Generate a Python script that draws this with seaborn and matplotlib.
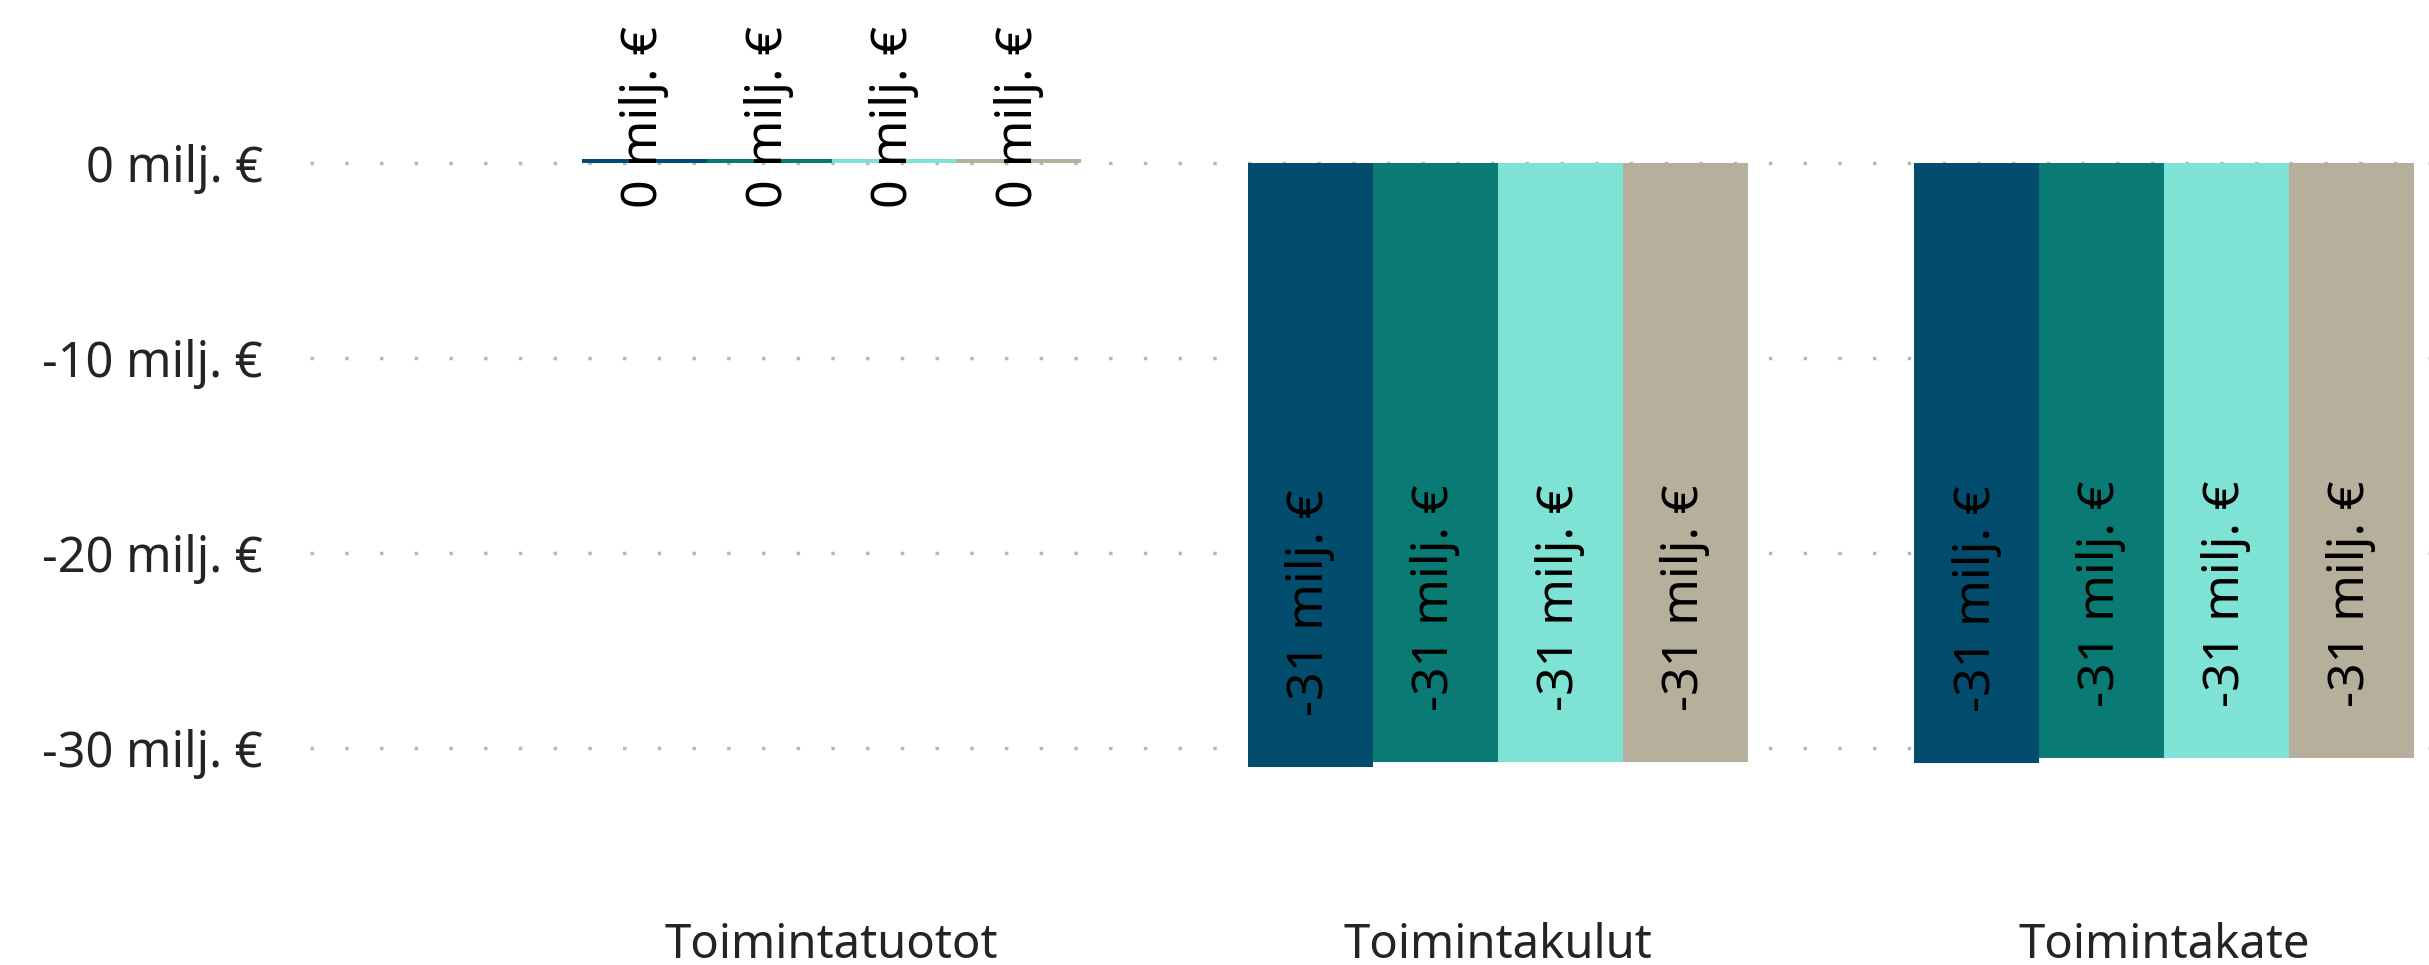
import matplotlib
matplotlib.use("Agg")
import matplotlib.pyplot as plt
import seaborn as sns
import pandas as pd

# data (milj. €)
categories = ["Toimintatuotot", "Toimintakulut", "Toimintakate"]
series = ["Sarja 1", "Sarja 2", "Sarja 3", "Sarja 4"]
tuotot = [0.2, 0.2, 0.2, 0.2]
kulut = [-30.95, -30.72, -30.72, -30.72]
kate = [-30.75, -30.52, -30.52, -30.52]
yticks = [0, -10, -20, -30]
colors = ["#024D6E", "#097B74", "#7EE2D5", "#B6AF9B"]

rows = []
for cat, vals in zip(categories, [tuotot, kulut, kate]):
    for s, v in zip(series, vals):
        rows.append({"kategoria": cat, "sarja": s, "arvo": v})
df = pd.DataFrame(rows)

sns.set_style("white")
plt.rcParams["font.family"] = ["Noto Sans", "DejaVu Sans"]

fig = plt.figure(figsize=(24.29, 9.65), dpi=100)
ax = fig.add_axes([310 / 2429, 1 - 880 / 965, 1 - 310 / 2429, 880 / 965])

sns.barplot(data=df, x="kategoria", y="arvo", hue="sarja", order=categories,
            hue_order=series, palette=colors, width=0.75, saturation=1,
            linewidth=0, legend=False, ax=ax, zorder=2)

ax.set_xlim(-0.783, 2.398)
ax.set_ylim(-36.77, 8.36)
ax.set_yticks(yticks)
ax.set_yticklabels([f"{t} milj. €" for t in yticks])
for t in yticks:
    ax.axhline(t, color="#B8B8B8", lw=2.5, ls=(0, (1, 9)), zorder=1)

ax.tick_params(axis="y", length=0, pad=34, labelsize=35, labelcolor="#252423")
ax.tick_params(axis="x", length=0, pad=30, labelsize=34, labelcolor="#252423")
ax.set_xlabel("")
ax.set_ylabel("")
for sp in ax.spines.values():
    sp.set_visible(False)

# value labels, rotated like in the original
for cont in ax.containers:
    for bar in cont:
        val = bar.get_height()
        x = bar.get_x() + bar.get_width() / 2
        y = val + 2.6 if val < 0 else val - 2.5
        ax.text(x, y, f"{round(val):.0f} milj. €", rotation=90, ha="center",
                va="bottom", fontsize=36, color="black", zorder=3)

fig.savefig("out.png", dpi=100)
